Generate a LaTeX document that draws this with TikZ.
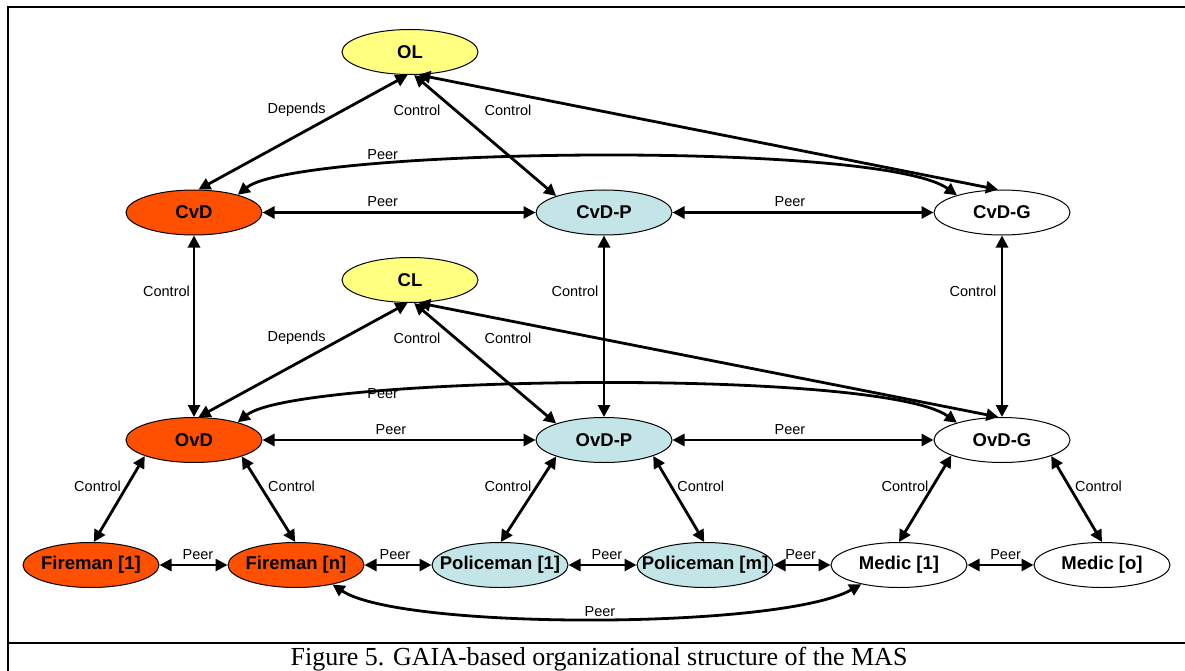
\documentclass[tikz,border=0pt]{standalone}
\usepackage{fontspec}
\setmainfont{Liberation Serif}
\newfontfamily\arialfont{Liberation Sans}
\usetikzlibrary{shapes.geometric,arrows.meta}
\definecolor{fireorange}{RGB}{255,80,0}
\definecolor{leaderyellow}{RGB}{255,255,128}
\definecolor{policecyan}{RGB}{196,229,232}
\tikzset{
  role/.style={ellipse, draw=black, line width=1pt, minimum width=136pt, minimum height=45pt,
    inner xsep=-40pt, inner ysep=-20pt, font=\arialfont\bfseries\fontsize{18.5}{20}\selectfont},
  fire/.style={role, fill=fireorange},
  leader/.style={role, fill=leaderyellow},
  police/.style={role, fill=policecyan},
  medic/.style={role, fill=white},
  link/.style={line width=2.8pt, >={Triangle[length=12pt,width=12pt]}, <->},
  lbl/.style={inner sep=0pt, font=\arialfont\fontsize{14.5}{16}\selectfont},
  frameline/.style={line width=2.5pt}
}
\begin{document}
\begin{tikzpicture}[x=1pt,y=-1pt]
\useasboundingbox (0,0) rectangle (1185,671);
% frame and caption rule
\coordinate (ftl) at (8,7);
\coordinate (ftr) at (1185,7);
\coordinate (fbl) at (8,671);
\coordinate (fsl) at (8,643);
\coordinate (fsr) at (1185,643);
\draw[frameline] (fbl) -- (ftl) -- (ftr);
\draw[frameline] (fsl) -- (fsr);
\node[anchor=base, inner sep=0pt, font=\fontsize{26}{28}\selectfont] (caption) at (599,665)
  {Figure 5. GAIA-based organizational structure of the MAS};

% roles
\node[leader] (ol)   at (410,52)    {OL};
\node[fire]   (cvd)  at (194,212.5) {CvD};
\node[police] (cvdp) at (604,212.5) {CvD-P};
\node[medic]  (cvdg) at (1002,212.5){CvD-G};
\node[leader] (cl)   at (410,280)   {CL};
\node[fire]   (ovd)  at (194,440)   {OvD};
\node[police] (ovdp) at (604,440)   {OvD-P};
\node[medic]  (ovdg) at (1002,440)  {OvD-G};
\node[fire]   (f1)   at (91,565)    {Fireman [1]};
\node[fire]   (fn)   at (296,565)   {Fireman [n]};
\node[police] (p1)   at (500,565)   {Policeman [1]};
\node[police] (pm)   at (705,565)   {Policeman [m]};
\node[medic]  (m1)   at (899,565)   {Medic [1]};
\node[medic]  (mo)   at (1102,565)  {Medic [o]};

% strategic level
\draw[link] (ol.-96) -- (cvd.79);
\draw[link] (ol.-80) -- (cvdp.161);
\draw[link] (ol.-70) -- (cvdg.100);
\draw[link] (cvd.22) .. controls (295,148) and (880,140) .. (cvdg.159);
\draw[link] (cvd) -- (cvdp);
\draw[link] (cvdp) -- (cvdg);

% vertical control
\draw[link] (cvd) -- (ovd);
\draw[link] (cvdp) -- (ovdp);
\draw[link] (cvdg) -- (ovdg);

% operational level
\draw[link] (cl.-96) -- (ovd.79);
\draw[link] (cl.-80) -- (ovdp.161);
\draw[link] (cl.-70) -- (ovdg.99);
\draw[link] (ovd.22) .. controls (295,375.5) and (880,367.5) .. (ovdg.159);
\draw[link] (ovd) -- (ovdp);
\draw[link] (ovdp) -- (ovdg);

% field units
\draw[link] (ovd.198.6) -- (f1.83);
\draw[link] (ovd.-19.4) -- (fn.92);
\draw[link] (ovdp.199.4) -- (p1.88);
\draw[link] (ovdp.-18.6) -- (pm.92);
\draw[link] (ovdg.197.8) -- (m1.90);
\draw[link] (ovdg.-18.4) -- (mo.90);
\draw[link] (f1) -- (fn);
\draw[link] (fn) -- (p1);
\draw[link] (p1) -- (pm);
\draw[link] (pm) -- (m1);
\draw[link] (m1) -- (mo);
\draw[link] (fn.-28) .. controls (400,630) and (780,630) .. (m1.207.6);

% connector labels
\node[lbl] (l1)  at (296.6,110) {Depends};
\node[lbl] (l2)  at (417,110)   {Control};
\node[lbl] (l3)  at (508,110)   {Control};
\node[lbl] (l4)  at (382.7,155) {Peer};
\node[lbl] (l5)  at (382.7,201.7) {Peer};
\node[lbl] (l6)  at (790,201.7) {Peer};
\node[lbl] (l7)  at (166.5,291.7) {Control};
\node[lbl] (l8)  at (575,291.7) {Control};
\node[lbl] (l9)  at (973,291.7) {Control};
\node[lbl] (l10) at (296.6,338) {Depends};
\node[lbl] (l11) at (417,338)   {Control};
\node[lbl] (l12) at (508,338)   {Control};
\node[lbl] (l13) at (382.7,394) {Peer};
\node[lbl] (l14) at (391,430)   {Peer};
\node[lbl] (l15) at (790,430)   {Peer};
\node[lbl] (l16) at (97.6,486)  {Control};
\node[lbl] (l17) at (291.6,486) {Control};
\node[lbl] (l18) at (508,486)   {Control};
\node[lbl] (l19) at (700.8,486) {Control};
\node[lbl] (l20) at (905,486)   {Control};
\node[lbl] (l21) at (1098.5,486){Control};
\node[lbl] (l22) at (198,555)   {Peer};
\node[lbl] (l23) at (395,555)   {Peer};
\node[lbl] (l24) at (607,555)   {Peer};
\node[lbl] (l25) at (800.6,555) {Peer};
\node[lbl] (l26) at (1005.6,555){Peer};
\node[lbl] (l27) at (600,612)   {Peer};
\end{tikzpicture}
\end{document}
